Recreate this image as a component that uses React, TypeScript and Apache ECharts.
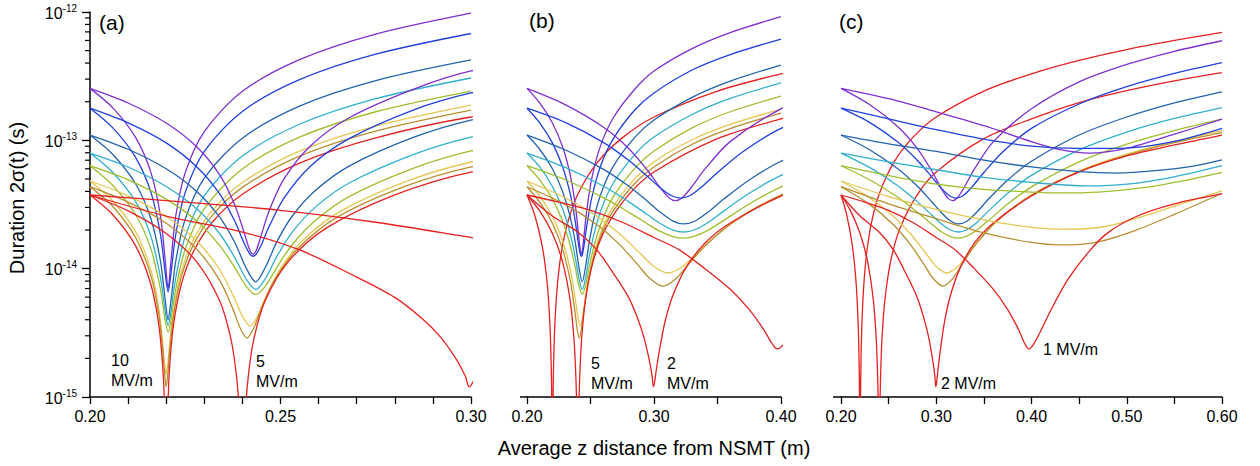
import React, { useEffect, useRef } from 'react';
import * as echarts from 'echarts';

// ---------- tick / label data ----------
const Y_MINOR_TICKS = [
  2e-15, 3e-15, 4e-15, 5e-15, 6e-15, 7e-15, 8e-15, 9e-15,
  2e-14, 3e-14, 4e-14, 5e-14, 6e-14, 7e-14, 8e-14, 9e-14,
  2e-13, 3e-13, 4e-13, 5e-13, 6e-13, 7e-13, 8e-13, 9e-13,
];
const X_AXIS_TITLE = 'Average z distance from NSMT (m)';
const Y_AXIS_TITLE = 'Duration 2σ(t) (s)';

// ---------- 10 MV/m family ----------
const X10 = [0.2, 0.206, 0.212, 0.216, 0.2185, 0.2198, 0.2205, 0.2212, 0.2225, 0.225, 0.23, 0.24, 0.255, 0.275, 0.3];
const F10_PURPLE = [2.54e-13, 1.79e-13, 1.05e-13, 5.6e-14, 2.57e-14, 1.11e-14, 7.0e-15, 1.11e-14, 2.57e-14, 5.6e-14, 1.17e-13, 2.41e-13, 4.26e-13, 6.73e-13, 9.8e-13];
const F10_BLUE = [1.78e-13, 1.25e-13, 7.34e-14, 3.93e-14, 1.84e-14, 8.9e-15, 6.6e-15, 8.9e-15, 1.84e-14, 3.93e-14, 8.2e-14, 1.68e-13, 2.97e-13, 4.69e-13, 6.8e-13];
const F10_STEEL = [1.1e-13, 7.76e-14, 4.57e-14, 2.44e-14, 1.14e-14, 5.5e-15, 4.0e-15, 5.5e-15, 1.14e-14, 2.44e-14, 5.08e-14, 1.04e-13, 1.85e-13, 2.92e-13, 4.23e-13];
const F10_CYAN = [7.96e-14, 5.61e-14, 3.31e-14, 1.78e-14, 8.5e-15, 4.5e-15, 3.6e-15, 4.5e-15, 8.5e-15, 1.78e-14, 3.7e-14, 7.55e-14, 1.335e-13, 2.11e-13, 3.06e-13];
const F10_OLIVE = [6.34e-14, 4.45e-14, 2.63e-14, 1.42e-14, 6.9e-15, 3.86e-15, 3.2e-15, 3.86e-15, 6.9e-15, 1.42e-14, 2.94e-14, 5.99e-14, 1.06e-13, 1.67e-13, 2.42e-13];
const X10_LOW = [0.2, 0.206, 0.212, 0.216, 0.218, 0.219, 0.2195, 0.22, 0.2205, 0.221, 0.222, 0.224, 0.227, 0.232, 0.24, 0.255, 0.275, 0.3];
const F10_YELLOW = [4.82e-14, 3.37e-14, 1.93e-14, 9.74e-15, 5.02e-15, 2.84e-15, 1.92e-15, 1.5e-15, 1.91e-15, 2.8e-15, 4.9e-15, 9.5e-15, 1.65e-14, 2.82e-14, 4.7e-14, 8.23e-14, 1.29e-13, 1.88e-13];
const F10_BROWN = [4.35e-14, 3.05e-14, 1.74e-14, 8.78e-15, 4.51e-15, 2.49e-15, 1.62e-15, 1.2e-15, 1.61e-15, 2.46e-15, 4.46e-15, 8.68e-15, 1.505e-14, 2.58e-14, 4.3e-14, 7.53e-14, 1.18e-13, 1.72e-13];
const X10_RED = [0.2, 0.206, 0.212, 0.216, 0.218, 0.219, 0.2195, 0.22, 0.2205, 0.221, 0.222, 0.224, 0.227, 0.232, 0.24, 0.255, 0.275, 0.3, 0.35, 0.4, 0.45, 0.5, 0.55, 0.6];
const F10_RED = [3.75e-14, 2.63e-14, 1.5e-14, 7.5e-15, 3.75e-15, 1.88e-15, 9.4e-16, 1e-16, 9.5e-16, 1.9e-15, 3.8e-15, 7.6e-15, 1.33e-14, 2.28e-14, 3.8e-14, 6.65e-14, 1.045e-13, 1.52e-13, 2.42e-13, 3.3e-13, 4.2e-13, 5.1e-13, 6.0e-13, 6.95e-13];

// ---------- 5 MV/m family ----------
const X5_PB = [0.2, 0.21, 0.22, 0.228, 0.234, 0.238, 0.2405, 0.242, 0.2428, 0.2436, 0.245, 0.247, 0.251, 0.258, 0.268, 0.285, 0.3, 0.33, 0.36, 0.4];
const F5_PURPLE = [2.54e-13, 1.955e-13, 1.363e-13, 8.9e-14, 5.4e-14, 3.14e-14, 1.89e-14, 1.38e-14, 1.3e-14, 1.38e-14, 1.85e-14, 2.82e-14, 5.05e-14, 9.13e-14, 1.5e-13, 2.51e-13, 3.47e-13, 5.19e-13, 6.91e-13, 9.19e-13];
const F5_BLUE = [1.78e-13, 1.37e-13, 9.56e-14, 6.23e-14, 3.84e-14, 2.34e-14, 1.57e-14, 1.29e-14, 1.25e-14, 1.29e-14, 1.54e-14, 2.13e-14, 3.58e-14, 6.34e-14, 1.03e-13, 1.73e-13, 2.34e-13, 3.53e-13, 4.66e-13, 6.16e-13];
const X5_SCO = [0.2, 0.21, 0.22, 0.228, 0.234, 0.238, 0.241, 0.2435, 0.246, 0.249, 0.253, 0.259, 0.268, 0.285, 0.3, 0.33, 0.36, 0.4];
const F5_STEEL = [1.1e-13, 8.52e-14, 6.0e-14, 4.0e-14, 2.53e-14, 1.6e-14, 1.01e-14, 7.9e-15, 1.02e-14, 1.61e-14, 2.55e-14, 4.03e-14, 6.3e-14, 1.058e-13, 1.44e-13, 2.16e-13, 2.89e-13, 3.86e-13];
const F5_CYAN = [7.96e-14, 6.2e-14, 4.37e-14, 2.93e-14, 1.88e-14, 1.22e-14, 8.3e-15, 6.9e-15, 8.35e-15, 1.24e-14, 1.91e-14, 2.99e-14, 4.65e-14, 7.78e-14, 1.06e-13, 1.59e-13, 2.12e-13, 2.8e-13];
const F5_OLIVE = [6.34e-14, 4.92e-14, 3.48e-14, 2.35e-14, 1.52e-14, 1.02e-14, 7.28e-15, 6.3e-15, 7.29e-15, 1.02e-14, 1.53e-14, 2.35e-14, 3.64e-14, 6.07e-14, 8.26e-14, 1.25e-13, 1.67e-13, 2.21e-13];
const X5_Y = [0.2, 0.21, 0.22, 0.228, 0.234, 0.238, 0.24, 0.242, 0.244, 0.246, 0.25, 0.256, 0.266, 0.283, 0.3, 0.33, 0.36, 0.4];
const F5_YELLOW = [4.82e-14, 3.69e-14, 2.55e-14, 1.65e-14, 9.85e-15, 5.82e-15, 4.25e-15, 3.57e-15, 4.27e-15, 5.89e-15, 1.0e-14, 1.68e-14, 2.83e-14, 4.79e-14, 6.78e-14, 1.01e-13, 1.33e-13, 1.75e-13];
const X5_BR = [0.2, 0.21, 0.22, 0.228, 0.234, 0.2375, 0.2395, 0.2412, 0.243, 0.245, 0.2485, 0.2545, 0.265, 0.283, 0.3, 0.33, 0.36, 0.4];
const F5_BROWN = [4.35e-14, 3.3e-14, 2.26e-14, 1.42e-14, 8.13e-15, 4.86e-15, 3.4e-15, 2.88e-15, 3.45e-15, 4.93e-15, 8.21e-15, 1.43e-14, 2.53e-14, 4.41e-14, 6.2e-14, 9.32e-14, 1.236e-13, 1.63e-13];
const X5_RED = [0.2, 0.21, 0.22, 0.228, 0.234, 0.237, 0.2385, 0.2393, 0.24, 0.2407, 0.2415, 0.243, 0.246, 0.252, 0.262, 0.28, 0.3, 0.35, 0.4, 0.45, 0.5, 0.55, 0.6];
const F5_RED = [3.75e-14, 2.82e-14, 1.88e-14, 1.13e-14, 5.64e-15, 2.82e-15, 1.41e-15, 6.6e-16, 1e-16, 6.6e-16, 1.41e-15, 2.82e-15, 5.64e-15, 1.13e-14, 2.07e-14, 3.76e-14, 5.66e-14, 1.03e-13, 1.47e-13, 1.97e-13, 2.44e-13, 2.91e-13, 3.37e-13];

// ---------- 2 MV/m family ----------
const X2_P = [0.2, 0.23, 0.26, 0.28, 0.295, 0.305, 0.312, 0.317, 0.322, 0.329, 0.34, 0.36, 0.4, 0.45, 0.5, 0.55, 0.6];
const F2_PURPLE = [2.54e-13, 1.9e-13, 1.27e-13, 8.65e-14, 5.82e-14, 4.26e-14, 3.56e-14, 3.39e-14, 3.55e-14, 4.25e-14, 5.96e-14, 9.77e-14, 1.76e-13, 2.85e-13, 3.9e-13, 4.94e-13, 5.97e-13];
const X2_B = [0.2, 0.23, 0.26, 0.28, 0.295, 0.305, 0.314, 0.321, 0.328, 0.337, 0.35, 0.37, 0.4, 0.45, 0.5, 0.55, 0.6];
const F2_BLUE = [1.78e-13, 1.38e-13, 9.65e-14, 7.0e-14, 5.22e-14, 4.26e-14, 3.7e-14, 3.55e-14, 3.7e-14, 4.29e-14, 5.61e-14, 8.16e-14, 1.24e-13, 1.92e-13, 2.62e-13, 3.32e-13, 4.03e-13];
const X2_SCO = [0.2, 0.23, 0.26, 0.28, 0.295, 0.305, 0.315, 0.3235, 0.332, 0.342, 0.355, 0.375, 0.4, 0.45, 0.5, 0.55, 0.6];
const F2_STEEL = [1.1e-13, 8.45e-14, 5.97e-14, 4.4e-14, 3.34e-14, 2.75e-14, 2.35e-14, 2.23e-14, 2.34e-14, 2.73e-14, 3.49e-14, 4.91e-14, 6.87e-14, 1.1e-13, 1.52e-13, 1.96e-13, 2.39e-13];
const F2_CYAN = [7.96e-14, 6.15e-14, 4.41e-14, 3.33e-14, 2.63e-14, 2.25e-14, 2.0e-14, 1.93e-14, 2.01e-14, 2.27e-14, 2.82e-14, 3.87e-14, 5.33e-14, 8.42e-14, 1.16e-13, 1.48e-13, 1.8e-13];
const F2_OLIVE = [6.34e-14, 4.93e-14, 3.58e-14, 2.76e-14, 2.23e-14, 1.95e-14, 1.78e-14, 1.73e-14, 1.79e-14, 1.98e-14, 2.38e-14, 3.19e-14, 4.34e-14, 6.8e-14, 9.34e-14, 1.19e-13, 1.46e-13];
const X2_Y = [0.2, 0.23, 0.255, 0.275, 0.29, 0.3, 0.311, 0.322, 0.333, 0.348, 0.37, 0.4, 0.45, 0.5, 0.55, 0.6];
const F2_YELLOW = [4.82e-14, 3.57e-14, 2.56e-14, 1.79e-14, 1.29e-14, 1.04e-14, 9.25e-15, 1.03e-14, 1.29e-14, 1.78e-14, 2.59e-14, 3.75e-14, 5.77e-14, 7.8e-14, 9.8e-14, 1.19e-13];
const X2_BR = [0.2, 0.23, 0.255, 0.273, 0.287, 0.297, 0.307, 0.317, 0.327, 0.341, 0.362, 0.4, 0.45, 0.5, 0.55, 0.6];
const F2_BROWN = [4.35e-14, 3.17e-14, 2.2e-14, 1.54e-14, 1.08e-14, 8.34e-15, 7.32e-15, 8.32e-15, 1.08e-14, 1.53e-14, 2.29e-14, 3.75e-14, 5.7e-14, 7.66e-14, 9.6e-14, 1.15e-13];
const X2_RED = [0.2, 0.22, 0.24, 0.255, 0.27, 0.28, 0.287, 0.292, 0.296, 0.2985, 0.2995, 0.3005, 0.302, 0.305, 0.309, 0.315, 0.325, 0.34, 0.36, 0.4, 0.45, 0.5, 0.55, 0.6];
const F2_RED = [3.75e-14, 2.57e-14, 1.93e-14, 1.4e-14, 8.6e-15, 5.97e-15, 4.12e-15, 2.93e-15, 2.0e-15, 1.46e-15, 1.2e-15, 1.31e-15, 1.68e-15, 2.54e-15, 3.98e-15, 6.23e-15, 1.01e-14, 1.58e-14, 2.27e-14, 3.68e-14, 5.67e-14, 7.55e-14, 9.2e-14, 1.1e-13];

// ---------- 1 MV/m family ----------
const X1_P = [0.2, 0.25, 0.3, 0.35, 0.4, 0.43, 0.461, 0.5, 0.55, 0.6];
const F1_PURPLE = [2.54e-13, 2.11e-13, 1.67e-13, 1.3e-13, 9.76e-14, 8.46e-14, 7.96e-14, 8.67e-14, 1.117e-13, 1.46e-13];
const X1_B = [0.2, 0.25, 0.3, 0.35, 0.4, 0.45, 0.5, 0.55, 0.6];
const F1_BLUE = [1.78e-13, 1.47e-13, 1.21e-13, 1.02e-13, 9.0e-14, 8.65e-14, 8.7e-14, 9.8e-14, 1.24e-13];
const X1_S = [0.2, 0.25, 0.3, 0.35, 0.4, 0.45, 0.49, 0.53, 0.57, 0.6];
const F1_STEEL = [1.1e-13, 9.4e-14, 8.2e-14, 7.0e-14, 6.2e-14, 5.7e-14, 5.56e-14, 5.8e-14, 6.3e-14, 7.03e-14];
const X1_C = [0.2, 0.25, 0.3, 0.35, 0.4, 0.46, 0.5, 0.55, 0.6];
const F1_CYAN = [7.96e-14, 6.8e-14, 5.9e-14, 5.15e-14, 4.7e-14, 4.41e-14, 4.55e-14, 5.2e-14, 6.34e-14];
const X1_O = [0.2, 0.25, 0.3, 0.35, 0.4, 0.43, 0.47, 0.52, 0.56, 0.6];
const F1_OLIVE = [6.34e-14, 5.3e-14, 4.55e-14, 4.15e-14, 3.95e-14, 3.89e-14, 3.95e-14, 4.3e-14, 4.85e-14, 5.63e-14];
const X1_Y = [0.2, 0.25, 0.3, 0.35, 0.4, 0.44, 0.48, 0.52, 0.56, 0.6];
const F1_YELLOW = [4.82e-14, 3.65e-14, 2.9e-14, 2.4e-14, 2.1e-14, 2.03e-14, 2.15e-14, 2.6e-14, 3.25e-14, 4.03e-14];
const X1_BR = [0.2, 0.25, 0.3, 0.35, 0.4, 0.43, 0.47, 0.51, 0.55, 0.6];
const F1_BROWN = [4.35e-14, 3.2e-14, 2.45e-14, 1.9e-14, 1.6e-14, 1.53e-14, 1.62e-14, 2.0e-14, 2.65e-14, 3.87e-14];
const X1_RED = [0.2, 0.225, 0.25, 0.275, 0.3, 0.32, 0.34, 0.36, 0.375, 0.386, 0.393, 0.397, 0.401, 0.409, 0.42, 0.438, 0.46, 0.48, 0.51, 0.55, 0.6];
const F1_RED = [3.75e-14, 3.3e-14, 2.85e-14, 2.3e-14, 1.75e-14, 1.4e-14, 1.0e-14, 6.9e-15, 4.8e-15, 3.4e-15, 2.6e-15, 2.37e-15, 2.5e-15, 3.2e-15, 4.7e-15, 8.2e-15, 1.35e-14, 1.9e-14, 2.55e-14, 3.2e-14, 3.82e-14];

// ---------- styling ----------
const COLORS: Record<string, string> = {
  purple: '#7f2fd2',
  blue: '#1f40e0',
  steel: '#2262b0',
  cyan: '#30afce',
  olive: '#9cbf2c',
  yellow: '#e6c652',
  brown: '#b98e2e',
  red: '#e6201f',
};
const FONT = '"Liberation Sans", Arial, Helvetica, sans-serif';

type Curve = { xs: number[]; ys: number[]; color: string };
const C = (xs: number[], ys: number[], color: string): Curve => ({ xs, ys, color });

const FAM10: Curve[] = [
  C(X10, F10_PURPLE, 'purple'), C(X10, F10_BLUE, 'blue'), C(X10, F10_STEEL, 'steel'), C(X10, F10_CYAN, 'cyan'),
  C(X10, F10_OLIVE, 'olive'), C(X10_LOW, F10_YELLOW, 'yellow'), C(X10_LOW, F10_BROWN, 'brown'), C(X10_RED, F10_RED, 'red'),
];
const FAM5: Curve[] = [
  C(X5_PB, F5_PURPLE, 'purple'), C(X5_PB, F5_BLUE, 'blue'), C(X5_SCO, F5_STEEL, 'steel'), C(X5_SCO, F5_CYAN, 'cyan'),
  C(X5_SCO, F5_OLIVE, 'olive'), C(X5_Y, F5_YELLOW, 'yellow'), C(X5_BR, F5_BROWN, 'brown'), C(X5_RED, F5_RED, 'red'),
];
const FAM2: Curve[] = [
  C(X2_P, F2_PURPLE, 'purple'), C(X2_B, F2_BLUE, 'blue'), C(X2_SCO, F2_STEEL, 'steel'), C(X2_SCO, F2_CYAN, 'cyan'),
  C(X2_SCO, F2_OLIVE, 'olive'), C(X2_Y, F2_YELLOW, 'yellow'), C(X2_BR, F2_BROWN, 'brown'), C(X2_RED, F2_RED, 'red'),
];
const FAM1: Curve[] = [
  C(X1_P, F1_PURPLE, 'purple'), C(X1_B, F1_BLUE, 'blue'), C(X1_S, F1_STEEL, 'steel'), C(X1_C, F1_CYAN, 'cyan'),
  C(X1_O, F1_OLIVE, 'olive'), C(X1_Y, F1_YELLOW, 'yellow'), C(X1_BR, F1_BROWN, 'brown'), C(X1_RED, F1_RED, 'red'),
];
const RED10 = FAM10[7];
const RED5 = FAM5[7];
const RED2 = FAM2[7];
const RED1 = FAM1[7];

const PANELS: Curve[][] = [
  [...FAM10, ...FAM5, RED2, RED1],
  [RED10, ...FAM5, ...FAM2, RED1],
  [RED10, RED5, ...FAM2, ...FAM1],
];

const GRIDS = [
  { left: 90, top: 12, width: 381, height: 385 },
  { left: 527, top: 12, width: 254, height: 385 },
  { left: 841, top: 12, width: 381, height: 385 },
];
const X_RANGES = [
  { min: 0.2, max: 0.3, interval: 0.01, labelEvery: 5 },
  { min: 0.2, max: 0.4, interval: 0.05, labelEvery: 10 },
  { min: 0.2, max: 0.6, interval: 0.05, labelEvery: 10 },
];

function buildOption() {
  const axisLineStyle = { color: '#000', width: 1.5 };
  const xAxis = X_RANGES.map((r, i) => ({
    type: 'value',
    gridIndex: i,
    min: r.min,
    max: r.max,
    interval: r.interval,
    axisLine: { show: true, onZero: false, lineStyle: axisLineStyle },
    axisTick: { show: true, length: 7, lineStyle: { color: '#000', width: 1.3 } },
    splitLine: { show: false },
    axisLabel: {
      margin: 11,
      fontSize: 16,
      fontFamily: FONT,
      color: '#000',
      formatter: (v: number) => (Math.round(v * 100) % r.labelEvery === 0 ? v.toFixed(2) : ''),
    },
  }));
  const yAxis = [0, 1, 2].map((i) => ({
    type: 'log',
    logBase: 10,
    gridIndex: i,
    min: 1e-15,
    max: 1e-12,
    splitNumber: 3,
    show: i === 0,
    axisLine: { show: true, onZero: false, lineStyle: axisLineStyle },
    axisTick: { show: true, length: 8, lineStyle: { color: '#000', width: 1.3 } },
    splitLine: { show: false },
    axisLabel: {
      margin: 13,
      formatter: (v: number) => `{a|10}{b|${Math.round(Math.log10(v))}}`,
      rich: {
        a: { fontSize: 16, fontFamily: FONT, color: '#000', lineHeight: 18, verticalAlign: 'bottom' },
        b: { fontSize: 10, fontFamily: FONT, color: '#000', lineHeight: 18, verticalAlign: 'top' },
      },
    },
  }));

  const series: any[] = [];
  PANELS.forEach((curves, pi) => {
    curves.forEach((c) => {
      series.push({
        type: 'line',
        xAxisIndex: pi,
        yAxisIndex: pi,
        data: c.xs.map((x, k) => [x, c.ys[k]]),
        showSymbol: false,
        symbol: 'none',
        smooth: 0.3,
        clip: true,
        silent: true,
        lineStyle: { color: COLORS[c.color], width: 1.3 },
        itemStyle: { color: COLORS[c.color] },
      });
    });
  });
  series.push({
    type: 'custom',
    xAxisIndex: 0,
    yAxisIndex: 0,
    data: Y_MINOR_TICKS.map((v) => [0.2, v]),
    clip: false,
    silent: true,
    z: 10,
    renderItem: (_p: any, api: any) => {
      const pt = api.coord([api.value(0), api.value(1)]);
      return {
        type: 'line',
        shape: { x1: pt[0] - 5, y1: pt[1], x2: pt[0], y2: pt[1] },
        style: { stroke: '#000', lineWidth: 1.2 },
      };
    },
  });

  const txt = (text: string, x: number, y: number, size: number, extra: any = {}) => ({
    type: 'text',
    x,
    y,
    silent: true,
    ...extra,
    style: {
      text,
      font: `${size}px ${FONT}`,
      fill: '#000',
      align: extra.align || 'left',
      verticalAlign: 'middle',
      lineHeight: extra.lineHeight || size * 1.2,
    },
  });

  const graphic = [
    txt('(a)', 99, 22, 21),
    txt('(b)', 529, 20, 21),
    txt('(c)', 839, 21, 21),
    txt('10\nMV/m', 111, 370, 16, { lineHeight: 20 }),
    txt('5\nMV/m', 256, 371, 16, { lineHeight: 20 }),
    txt('5\nMV/m', 591, 373, 16, { lineHeight: 20 }),
    txt('2\nMV/m', 667, 373, 16, { lineHeight: 20 }),
    txt('1 MV/m', 1043, 349, 16),
    txt('2 MV/m', 941, 383, 16),
    txt(X_AXIS_TITLE, 654, 448, 20, { align: 'center' }),
    txt(Y_AXIS_TITLE, 17, 198, 20, { align: 'center', rotation: Math.PI / 2 }),
    { type: 'line', silent: true, shape: { x1: 520, y1: 397, x2: 528, y2: 397 }, style: { stroke: '#000', lineWidth: 1.5 } },
    { type: 'line', silent: true, shape: { x1: 833, y1: 397, x2: 842, y2: 397 }, style: { stroke: '#000', lineWidth: 1.5 } },
  ];

  return {
    animation: false,
    backgroundColor: '#fff',
    grid: GRIDS.map((g) => ({ ...g, containLabel: false })),
    xAxis,
    yAxis,
    series,
    graphic,
  };
}

export default function App() {
  const ref = useRef<HTMLDivElement>(null);
  useEffect(() => {
    if (!ref.current) return;
    const chart = echarts.init(ref.current, undefined, { renderer: 'svg' });
    chart.setOption(buildOption() as any);
    return () => chart.dispose();
  }, []);
  return (
    <div
      ref={ref}
      style={{ position: 'fixed', left: 0, top: 0, width: 1260, height: 466, background: '#fff' }}
    />
  );
}
